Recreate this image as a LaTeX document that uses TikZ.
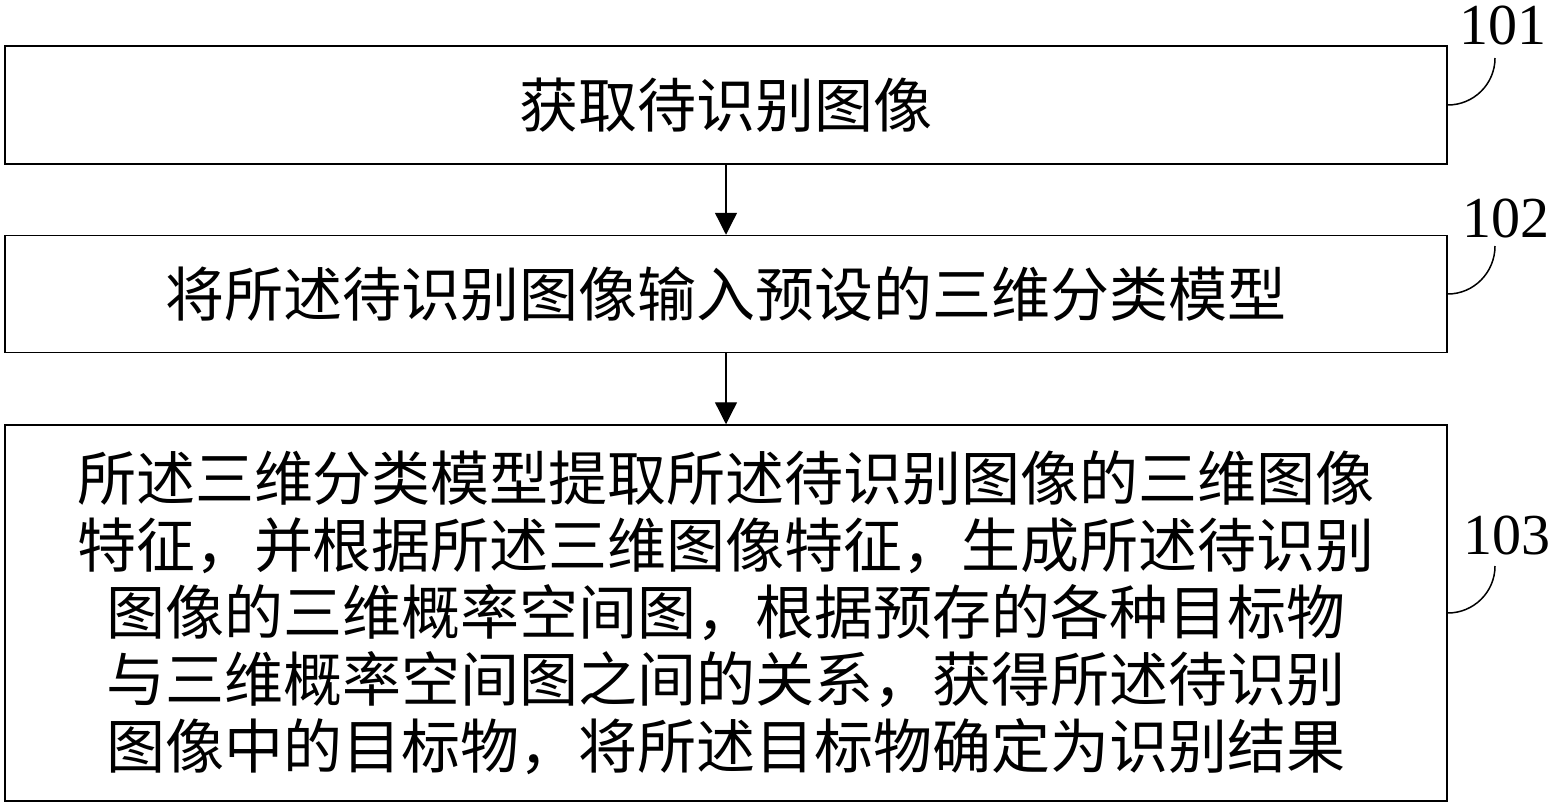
\documentclass[tikz,border=0pt]{standalone}
\usepackage{fontspec}
\setmainfont{Liberation Serif}
\newfontfamily\cjk{Noto Sans CJK SC}
\usetikzlibrary{arrows.meta}
\begin{document}
\begin{tikzpicture}[x=1pt,y=-1pt,
  stepbox/.style={draw,line width=1.5pt,minimum width=1442pt,inner sep=0pt,
    font=\cjk\fontsize{59pt}{67pt}\selectfont,align=center},
  flow/.style={line width=1.3pt,-{Triangle[length=22pt,width=22pt]}},
  leader/.style={line width=1.5pt},
  numlab/.style={font=\fontsize{58pt}{60pt}\selectfont,inner sep=0pt}]
\useasboundingbox (0,0) rectangle (1551,806);
\node[stepbox,minimum height=118pt] (b1) at (726,105) {获取待识别图像};
\node[stepbox,minimum height=117pt] (b2) at (726,294) {将所述待识别图像输入预设的三维分类模型};
\node[stepbox,minimum height=376pt] (b3) at (726,613) {所述三维分类模型提取所述待识别图像的三维图像\\特征，并根据所述三维图像特征，生成所述待识别\\图像的三维概率空间图，根据预存的各种目标物\\与三维概率空间图之间的关系，获得所述待识别\\图像中的目标物，将所述目标物确定为识别结果};
\draw[flow] (b1) -- (b2);
\draw[flow] (b2) -- (b3);
\node[numlab] (l1) at (1503,25) {101};
\node[numlab] (l2) at (1506,218) {102};
\node[numlab] (l3) at (1507,535) {103};
\coordinate (e1) at (1495,58);
\coordinate (e2) at (1495,246);
\coordinate (e3) at (1495,566);
\draw[leader] (b1.east) to[out=0,in=-90] (e1);
\draw[leader] (b2.east) to[out=0,in=-90] (e2);
\draw[leader] (b3.east) to[out=0,in=-90] (e3);
\end{tikzpicture}
\end{document}
